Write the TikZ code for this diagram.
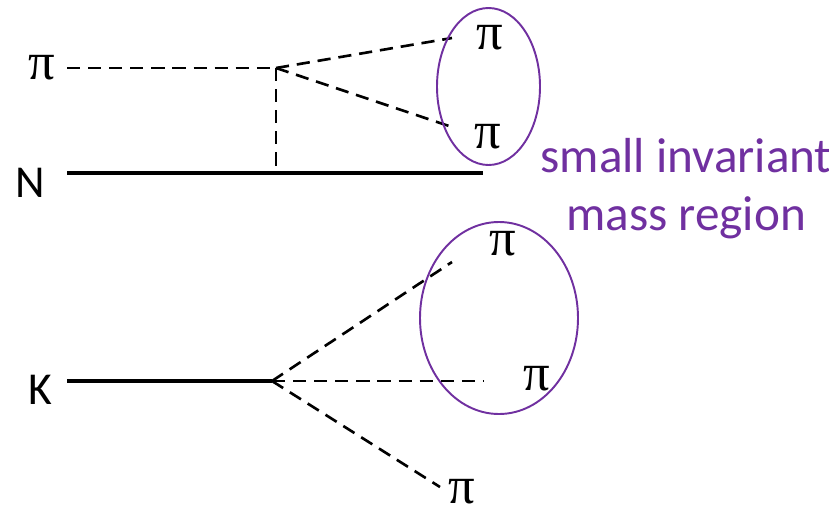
\documentclass[tikz,border=0pt]{standalone}
\usepackage{fontspec}
\setmainfont{Carlito}
\newfontfamily\pifont{Liberation Serif}
\definecolor{mypurple}{RGB}{112,48,160}

\begin{document}
\begin{tikzpicture}[x=0.02cm,y=-0.02cm,font=\fontsize{26}{31}\selectfont,
    pion/.style={dash pattern=on 7.5pt off 4.5pt,line width=1.5pt},
    line/.style={line width=1.8pt},
    piname/.style={font=\fontsize{30}{36}\selectfont\pifont},
    region/.style={draw=mypurple,line width=1.1pt}]
  \useasboundingbox (0,0) rectangle (829,515);
  % upper graph: pi N scattering
  \node[piname] (pin) at (42,68) {π};
  \node (nuc) at (30,183) {N};
  \coordinate (pinstart) at (67,68);
  \coordinate (nstart) at (67,173);
  \coordinate (v1) at (276,68);
  \coordinate (v2) at (276,173);
  \coordinate (nend) at (483,173);
  \coordinate (p1end) at (452,38);
  \coordinate (p2end) at (455,128);
  \node[piname] (p1) at (490,38) {π};
  \node[piname] (p2) at (488,137) {π};
  \draw[pion] (pinstart) -- (v1);
  \draw[pion] (v1) -- (v2);
  \draw[pion] (v1) -- (p1end);
  \draw[pion] (v1) -- (p2end);
  \draw[line] (nstart) -- (v2) -- (nend);
  \coordinate (r1) at (488.5,86.5);
  \draw[region] (r1) ellipse [x radius=51.5,y radius=78.5];
  % lower graph: K decay
  \node (kaon) at (40,390) {K};
  \coordinate (kstart) at (67,381);
  \coordinate (v3) at (272,381);
  \coordinate (q1end) at (452,262);
  \coordinate (q2end) at (483,381);
  \coordinate (q3end) at (440,487);
  \node[piname] (q1) at (503,244) {π};
  \node[piname] (q2) at (537,379) {π};
  \node[piname] (q3) at (462,492) {π};
  \draw[line] (kstart) -- (v3);
  \draw[pion] (v3) -- (q1end);
  \draw[pion] (v3) -- (q2end);
  \draw[pion] (v3) -- (q3end);
  \coordinate (r2) at (499,318);
  \draw[region] (r2) ellipse [x radius=79,y radius=96];
  % label
  \node[text=mypurple,align=center,font=\fontsize{28}{33}\selectfont] (lbl) at (686,189) {small invariant\\mass region};
\end{tikzpicture}
\end{document}
